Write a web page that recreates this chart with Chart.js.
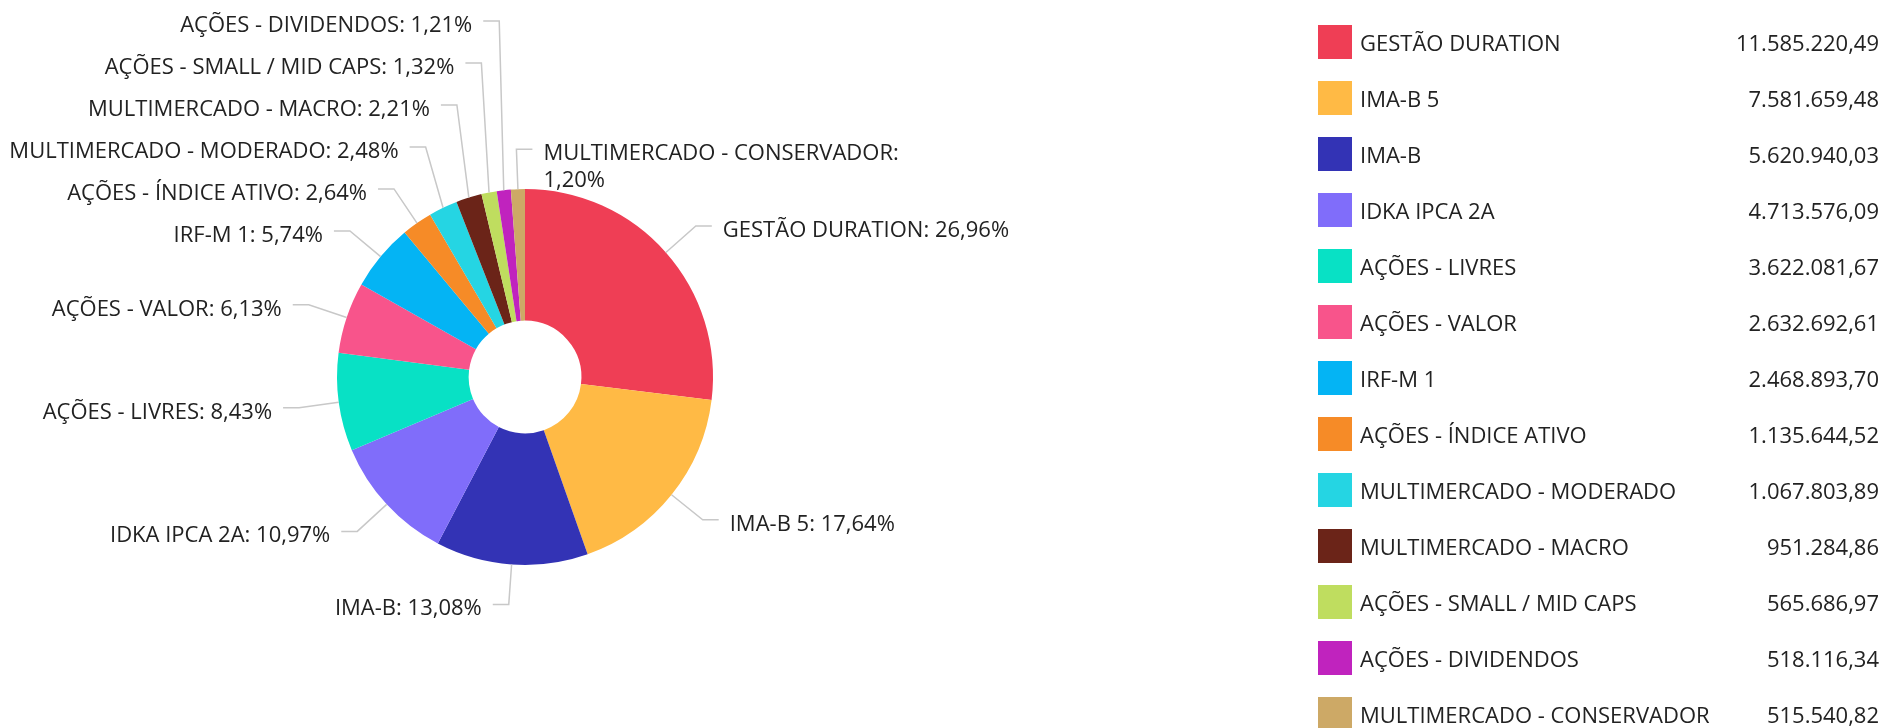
<!DOCTYPE html>
<html lang="pt-BR">
<head>
<meta charset="utf-8">
<title>Distribuição por estratégia</title>
<script src="https://cdn.jsdelivr.net/npm/chart.js@4.4.1/dist/chart.umd.min.js"></script>
<style>
  html, body { margin: 0; padding: 0; background: #fff; }
  body {
    width: 1886px; height: 728px; position: relative; overflow: hidden;
    font-family: "Open Sans", sans-serif; color: #222;
  }
  #pie { position: absolute; left: 0; top: 0; }
  #legend {
    position: absolute; left: 1318px; top: 25px; width: 561px;
    margin: 0; padding: 0; list-style: none;
  }
  #legend li {
    display: flex; align-items: center; height: 34px; margin-bottom: 22px;
    font-size: 22px; white-space: nowrap;
  }
  #legend .box { width: 34px; height: 34px; flex: none; margin-right: 8px; }
  #legend .name { flex: 1; }
  #legend .val { text-align: right; }
</style>
</head>
<body>
<canvas id="pie" width="1886" height="728"></canvas>
<ul id="legend"></ul>

<script>
const labels = [
  "GESTÃO DURATION",
  "IMA-B 5",
  "IMA-B",
  "IDKA IPCA 2A",
  "AÇÕES - LIVRES",
  "AÇÕES - VALOR",
  "IRF-M 1",
  "AÇÕES - ÍNDICE ATIVO",
  "MULTIMERCADO - MODERADO",
  "MULTIMERCADO - MACRO",
  "AÇÕES - SMALL / MID CAPS",
  "AÇÕES - DIVIDENDOS",
  "MULTIMERCADO - CONSERVADOR"
];

const values = [
  11585220.49, 7581659.48, 5620940.03, 4713576.09, 3622081.67,
  2632692.61, 2468893.70, 1135644.52, 1067803.89, 951284.86,
  565686.97, 518116.34, 515540.82
];

const colors = [
  "#ef3e55", "#ffba45", "#3333b5", "#806dfa", "#08e1c5",
  "#f8548b", "#04b4f4", "#f68b27", "#25d5e3", "#6b2418",
  "#bfdd5f", "#c023be", "#cda966"
];

// 1234567.8 -> "1.234.567,80"
function formatBR(v) {
  const parts = v.toFixed(2).split(".");
  parts[0] = parts[0].replace(/\B(?=(\d{3})+(?!\d))/g, ".");
  return parts.join(",");
}

function pct(v, total) {
  return (v / total * 100).toFixed(2).replace(".", ",") + "%";
}

// legend on the right
const ul = document.getElementById("legend");
labels.forEach((name, i) => {
  const li = document.createElement("li");
  li.innerHTML =
    `<span class="box" style="background:${colors[i]}"></span>` +
    `<span class="name">${name}</span>` +
    `<span class="val">${formatBR(values[i])}</span>`;
  ul.appendChild(li);
});

// labels outside the pie with leader lines
const LEN1 = 40, LEN2 = 16, GAP = 11, ROW = 42, LINE_H = 27, MAX_W = 400;

function wrap(ctx, text, maxW) {
  if (ctx.measureText(text).width <= maxW) return [text];
  const words = text.split(" ");
  const lines = [];
  let cur = "";
  words.forEach(w => {
    const test = cur ? cur + " " + w : w;
    if (cur && ctx.measureText(test).width > maxW) {
      lines.push(cur);
      cur = w;
    } else {
      cur = test;
    }
  });
  if (cur) lines.push(cur);
  return lines;
}

const outsideLabels = {
  id: "outsideLabels",
  afterDraw(chart) {
    const ctx = chart.ctx;
    const arcs = chart.getDatasetMeta(0).data;
    const total = values.reduce((a, b) => a + b, 0);
    ctx.save();
    ctx.font = "22px 'Open Sans'";

    const items = arcs.map((arc, i) => {
      const p = arc.getProps(["x", "y", "startAngle", "endAngle", "outerRadius"], true);
      const mid = (p.startAngle + p.endAngle) / 2;
      const cos = Math.cos(mid), sin = Math.sin(mid);
      const right = cos > -0.05;
      const text = labels[i] + ": " + pct(values[i], total);
      return {
        cx: p.x, cy: p.y,
        ax: p.x + p.outerRadius * cos,
        ay: p.y + p.outerRadius * sin,
        ex: p.x + (p.outerRadius + LEN1) * cos,
        ey: p.y + (p.outerRadius + LEN1) * sin,
        right,
        lines: right ? wrap(ctx, text, MAX_W) : [text]
      };
    });

    // push overlapping labels away from the horizontal middle
    [true, false].forEach(side => {
      const list = items.filter(it => it.right === side).sort((a, b) => a.ey - b.ey);
      const upper = list.filter(it => it.ey < it.cy);
      const lower = list.filter(it => it.ey >= it.cy);
      for (let i = upper.length - 2; i >= 0; i--) {
        const lim = upper[i + 1].ey - ROW - (upper[i].lines.length - 1) * LINE_H;
        upper[i].ey = Math.min(upper[i].ey, lim);
      }
      for (let i = 1; i < lower.length; i++) {
        const lim = lower[i - 1].ey + ROW + (lower[i - 1].lines.length - 1) * LINE_H;
        lower[i].ey = Math.max(lower[i].ey, lim);
      }
    });

    items.forEach(it => {
      const dir = it.right ? 1 : -1;
      ctx.strokeStyle = "#c8c8c8";
      ctx.lineWidth = 1.5;
      ctx.beginPath();
      ctx.moveTo(it.ax, it.ay);
      ctx.lineTo(it.ex, it.ey);
      ctx.lineTo(it.ex + LEN2 * dir, it.ey);
      ctx.stroke();

      ctx.fillStyle = "#222";
      ctx.textAlign = it.right ? "left" : "right";
      ctx.textBaseline = "alphabetic";
      const tx = it.ex + (LEN2 + GAP) * dir;
      it.lines.forEach((ln, k) => {
        ctx.fillText(ln, tx, it.ey + 11 + k * LINE_H);
      });
    });
    ctx.restore();
  }
};

new Chart(document.getElementById("pie"), {
  type: "doughnut",
  data: {
    labels: labels,
    datasets: [{
      data: values,
      backgroundColor: colors,
      borderWidth: 0,
      offset: 0,
      hoverOffset: 0
    }]
  },
  options: {
    responsive: false,
    animation: false,
    cutout: "30%",
    layout: { padding: { left: 337, right: 1173, top: 189, bottom: 163 } },
    plugins: {
      legend: { display: false },
      tooltip: { enabled: false }
    }
  },
  plugins: [outsideLabels]
});
</script>
</body>
</html>
